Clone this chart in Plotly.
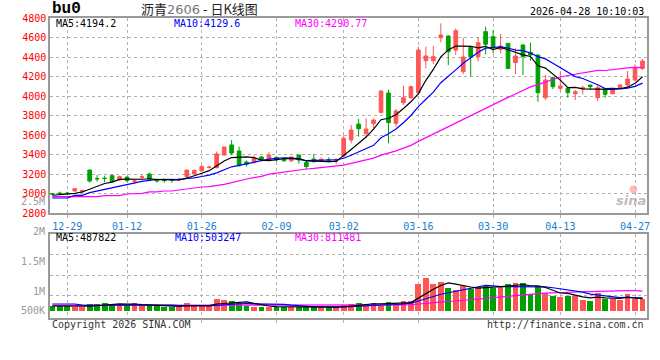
import plotly.graph_objects as go
import pandas as pd

# ---------------- data ----------------
dates = [
    "2025-12-25", "2025-12-26", "2025-12-29", "2025-12-30", "2025-12-31",
    "2026-01-05", "2026-01-06", "2026-01-07", "2026-01-08", "2026-01-09",
    "2026-01-12", "2026-01-13", "2026-01-14", "2026-01-15", "2026-01-16",
    "2026-01-19", "2026-01-20", "2026-01-21", "2026-01-22", "2026-01-23",
    "2026-01-26", "2026-01-27", "2026-01-28", "2026-01-29", "2026-01-30",
    "2026-02-02", "2026-02-03", "2026-02-04", "2026-02-05", "2026-02-06",
    "2026-02-09", "2026-02-10", "2026-02-11", "2026-02-12", "2026-02-13",
    "2026-02-24", "2026-02-25", "2026-02-26", "2026-02-27",
    "2026-03-02", "2026-03-03", "2026-03-04", "2026-03-05", "2026-03-06",
    "2026-03-09", "2026-03-10", "2026-03-11", "2026-03-12", "2026-03-13",
    "2026-03-16", "2026-03-17", "2026-03-18", "2026-03-19", "2026-03-20",
    "2026-03-23", "2026-03-24", "2026-03-25", "2026-03-26", "2026-03-27",
    "2026-03-30", "2026-03-31", "2026-04-01", "2026-04-02", "2026-04-03",
    "2026-04-07", "2026-04-08", "2026-04-09", "2026-04-10",
    "2026-04-13", "2026-04-14", "2026-04-15", "2026-04-16", "2026-04-17",
    "2026-04-20", "2026-04-21", "2026-04-22", "2026-04-23", "2026-04-24",
    "2026-04-27", "2026-04-28",
]

open_ = [
    3001, 3008, 3008, 3029, 3019, 3244, 3158, 3161, 3186, 3142,
    3172, 3129, 3170, 3203, 3149, 3148, 3144, 3147, 3176, 3203,
    3236, 3270, 3268, 3398, 3501, 3439, 3326, 3320, 3378, 3347,
    3374, 3361, 3340, 3398, 3320, 3357, 3340, 3349, 3337, 3388,
    3552, 3716, 3617, 3720, 3836, 4034, 3723, 3935, 3986, 4038,
    4366, 4366, 4602, 4619, 4475, 4253, 4503, 4407, 4664, 4612,
    4482, 4544, 4346, 4527, 4452, 4424, 3986, 4192, 4082, 4082,
    4027, 4075, 4116, 3986, 4075, 4027, 4082, 4116, 4168, 4287,
]
high = [
    3010, 3022, 3020, 3060, 3039, 3248, 3193, 3186, 3200, 3186,
    3176, 3149, 3196, 3217, 3150, 3152, 3155, 3166, 3246, 3251,
    3297, 3289, 3432, 3482, 3552, 3484, 3340, 3395, 3385, 3429,
    3381, 3368, 3381, 3398, 3340, 3409, 3371, 3374, 3361, 3600,
    3706, 3768, 3774, 3774, 4062, 4065, 3870, 4110, 4110, 4510,
    4510, 4517, 4749, 4629, 4698, 4602, 4510, 4609, 4715, 4681,
    4640, 4544, 4493, 4537, 4551, 4431, 4219, 4202, 4260, 4085,
    4065, 4110, 4118, 4116, 4078, 4089, 4126, 4260, 4328, 4383,
]
low = [
    2988, 2986, 2986, 3022, 3008, 3114, 3125, 3118, 3118, 3135,
    3121, 3101, 3149, 3150, 3114, 3114, 3114, 3131, 3166, 3200,
    3227, 3258, 3261, 3391, 3398, 3279, 3279, 3313, 3343, 3340,
    3330, 3326, 3323, 3309, 3251, 3320, 3330, 3323, 3306, 3381,
    3518, 3586, 3576, 3672, 3822, 3518, 3689, 3911, 3973, 4014,
    4287, 4332, 4554, 4322, 4424, 4226, 4202, 4356, 4431, 4441,
    4441, 4287, 4229, 4219, 4363, 3945, 3962, 4075, 4055, 3986,
    3962, 4021, 4065, 3952, 3986, 4020, 4075, 4099, 4151, 4270,
]
close = [
    2997, 3003, 3003, 3053, 3036, 3131, 3153, 3157, 3125, 3176,
    3138, 3133, 3174, 3152, 3131, 3135, 3140, 3151, 3244, 3240,
    3279, 3274, 3409, 3480, 3419, 3289, 3303, 3364, 3350, 3398,
    3347, 3340, 3378, 3347, 3279, 3330, 3354, 3345, 3354, 3570,
    3655, 3668, 3665, 3757, 4055, 3730, 3850, 3986, 4099, 4475,
    4414, 4407, 4629, 4458, 4674, 4404, 4404, 4551, 4534, 4503,
    4517, 4287, 4414, 4407, 4424, 4038, 4168, 4099, 4106, 4038,
    4048, 4089, 4099, 4089, 4021, 4065, 4116, 4178, 4287, 4363,
]
volume = [
    215000, 215000, 215000, 161000, 161000, 296000, 296000, 336000, 296000, 296000,
    215000, 336000, 215000, 215000, 215000, 188000, 188000, 188000, 336000, 215000,
    215000, 215000, 498000, 458000, 417000, 323000, 215000, 188000, 161000, 188000,
    188000, 188000, 188000, 161000, 188000, 161000, 175000, 161000, 161000, 242000,
    296000, 350000, 296000, 350000, 215000, 390000, 296000, 431000, 431000, 1119000,
    1362000, 1119000, 1200000, 943000, 862000, 1024000, 889000, 970000, 1024000, 943000,
    1024000, 1119000, 1160000, 1160000, 714000, 1024000, 754000, 619000, 592000, 632000,
    605000, 470000, 417000, 727000, 511000, 484000, 457000, 714000, 484000, 484000,
]

ma5_head = [2985, 2990, 2995, 3005]
ma10_head = [2957, 2957, 2957, 2984, 2984, 3012, 3029, 3043, 3060]
ma30_head = [2971, 2971, 2971, 2971, 2971, 2971, 2971, 2981, 2981, 2981,
             2998, 2998, 3005, 3019, 3019, 3029, 3029, 3039, 3050, 3060,
             3070, 3073, 3084, 3097, 3114, 3135, 3152, 3166, 3179]
vma5_head = [215000, 215000, 215000, 200000]
vma10_head = [296000, 296000, 296000, 296000, 250000, 240000, 240000, 245000, 250000]
vma30_head = [240000, 240000, 240000, 240000, 240000, 240000, 240000, 240000, 240000, 240000,
              242000, 242000, 242000, 242000, 242000, 244000, 244000, 244000, 244000, 244000,
              246000, 246000, 248000, 250000, 252000, 253000, 254000, 255000, 255000]

tick_dates = ["12-29", "01-12", "01-26", "02-09", "03-02", "03-16", "03-30", "04-13", "04-27"]
price_ticks = [2800, 3000, 3200, 3400, 3600, 3800, 4000, 4200, 4400, 4600, 4800]
vol_labels = ["2.5M", "2M", "1.5M", "1M", "500K"]
title_code = "bu0"
title_name = "沥青"
title_contract = "2606"
title_kind = " - 日K线图"
timestamp = "2026-04-28 10:10:03"
ma_price_text = ["MA5:4194.2", "MA10:4129.6", "MA30:4290.77"]
ma_vol_text = ["MA5:487822", "MA10:503247", "MA30:811481"]

# ---------------- derived ----------------
x = list(range(len(dates)))
short = [d[5:] for d in dates]
tickvals = [short.index(t) for t in tick_dates if t in short]
ticktext = [short[v] for v in tickvals]


def ma(values, n, head):
    s = pd.Series(values, dtype=float).rolling(n).mean().tolist()
    s[:len(head)] = head
    return s


ma5 = ma(close, 5, ma5_head)
ma10 = ma(close, 10, ma10_head)
ma30 = ma(close, 30, ma30_head)
vma5 = ma(volume, 5, vma5_head)
vma10 = ma(volume, 10, vma10_head)
vma30 = ma(volume, 30, vma30_head)

RED = "#ff5555"
GREEN = "#00a000"
bar_colors = [RED if c >= o else GREEN for o, c in zip(open_, close)]
MONO = "DejaVu Sans Mono"

fig = go.Figure()
fig.add_trace(go.Candlestick(
    x=x, open=open_, high=high, low=low, close=close,
    increasing=dict(line=dict(color=RED, width=1), fillcolor=RED),
    decreasing=dict(line=dict(color=GREEN, width=1), fillcolor=GREEN),
    whiskerwidth=0, xaxis="x", yaxis="y", hoverinfo="skip", showlegend=False,
))
for vals, col in [(ma30, "#ff00ff"), (ma10, "#0000ff"), (ma5, "#000000")]:
    fig.add_trace(go.Scatter(x=x, y=vals, mode="lines", line=dict(color=col, width=1.2),
                             xaxis="x", yaxis="y", hoverinfo="skip", showlegend=False))

fig.add_trace(go.Bar(x=x, y=volume, marker=dict(color=bar_colors, line=dict(width=0)),
                     width=0.78, xaxis="x2", yaxis="y2", hoverinfo="skip", showlegend=False))
for vals, col in [(vma30, "#ff00ff"), (vma10, "#0000ff"), (vma5, "#000000")]:
    fig.add_trace(go.Scatter(x=x, y=vals, mode="lines", line=dict(color=col, width=1.2),
                             xaxis="x2", yaxis="y2", hoverinfo="skip", showlegend=False))

L, R, T, B = 50, 650, 18, 318


def px(xp):
    return (xp - L) / (R - L)


def py(yp):
    return (B - yp) / (B - T)


grid = dict(showgrid=True, gridcolor="#b0b0b0", gridwidth=1, griddash="dot")
frame = dict(showline=True, linecolor="#9a9a9a", linewidth=1.5, mirror=True, zeroline=False)
xr = [-0.31, len(dates) - 0.4]

fig.update_layout(
    width=660, height=360,
    margin=dict(l=L, r=660 - R, t=T, b=360 - B),
    paper_bgcolor="white", plot_bgcolor="white",
    showlegend=False, hovermode=False, bargap=0,
    xaxis=dict(domain=[0, 1], anchor="y", range=xr, tickvals=tickvals, ticktext=ticktext,
               tickfont=dict(family=MONO, size=10, color="#1a7fd0"),
               ticks="outside", ticklen=3, tickcolor="#b0b0b0",
               rangeslider=dict(visible=False), **grid, **frame),
    yaxis=dict(domain=[py(213.3), 1], anchor="x", range=[2800, 4804], tickvals=price_ticks,
               tickfont=dict(family=MONO, size=10, color="#ff0000"), ticks="",
               **grid, **frame),
    xaxis2=dict(domain=[0, 1], anchor="y2", range=xr, tickvals=tickvals, showticklabels=False,
                matches="x", ticks="outside", ticklen=3, tickcolor="#b0b0b0", **grid, **frame),
    yaxis2=dict(domain=[0, py(234)], anchor="x2", range=[-271000, 3130000],
                tickvals=[660000, 1470000, 2280000], showticklabels=False, ticks="",
                **grid, **frame),
)

ann = []


def text(s, xp, yp, color="#000", size=10, anchor="left", family=MONO, bold=False):
    if bold:
        s = "<b>" + s + "</b>"
    ann.append(dict(text=s, x=px(xp), y=py(yp), xref="paper", yref="paper",
                    xanchor=anchor, yanchor="middle", showarrow=False,
                    font=dict(family=family, size=size, color=color)))


text(title_code, 50, 9, size=16, family="Liberation Mono", bold=True)
text(title_name + "<span style='color:#777;font-family:DejaVu Sans'>" + title_contract +
     "</span>" + title_kind, 200, 9, color="#222", size=13, anchor="center",
     family="Noto Sans CJK SC")
text(timestamp, 649, 12, anchor="right")
for s, xp, col in zip(ma_price_text, [54, 173, 294], ["#000000", "#0000ff", "#ff00ff"]):
    text(s, xp, 23, color=col)
for s, xp, col in zip(ma_vol_text, [54, 174, 294], ["#000000", "#0000ff", "#ff00ff"]):
    text(s, xp, 237, color=col)
for s, yp in zip(vol_labels, [201, 231, 261, 291, 310]):
    text(s, 47, yp, color="#999999", anchor="right")
text("Copyright 2026 SINA.COM", 50, 324, color="#333")
text("http://finance.sina.com.cn", 649, 324, color="#333", anchor="right")
text("<i>sina</i>", 634, 200, color="rgba(170,170,170,0.8)", size=13, anchor="center",
     family="DejaVu Sans", bold=True)
text("●", 636, 188, color="rgba(255,140,140,0.6)", size=10, anchor="center", family="DejaVu Sans")
fig.update_layout(annotations=ann)

fig.write_html("out.html", config={"displayModeBar": False},
               post_script="document.body.style.margin='0';")
